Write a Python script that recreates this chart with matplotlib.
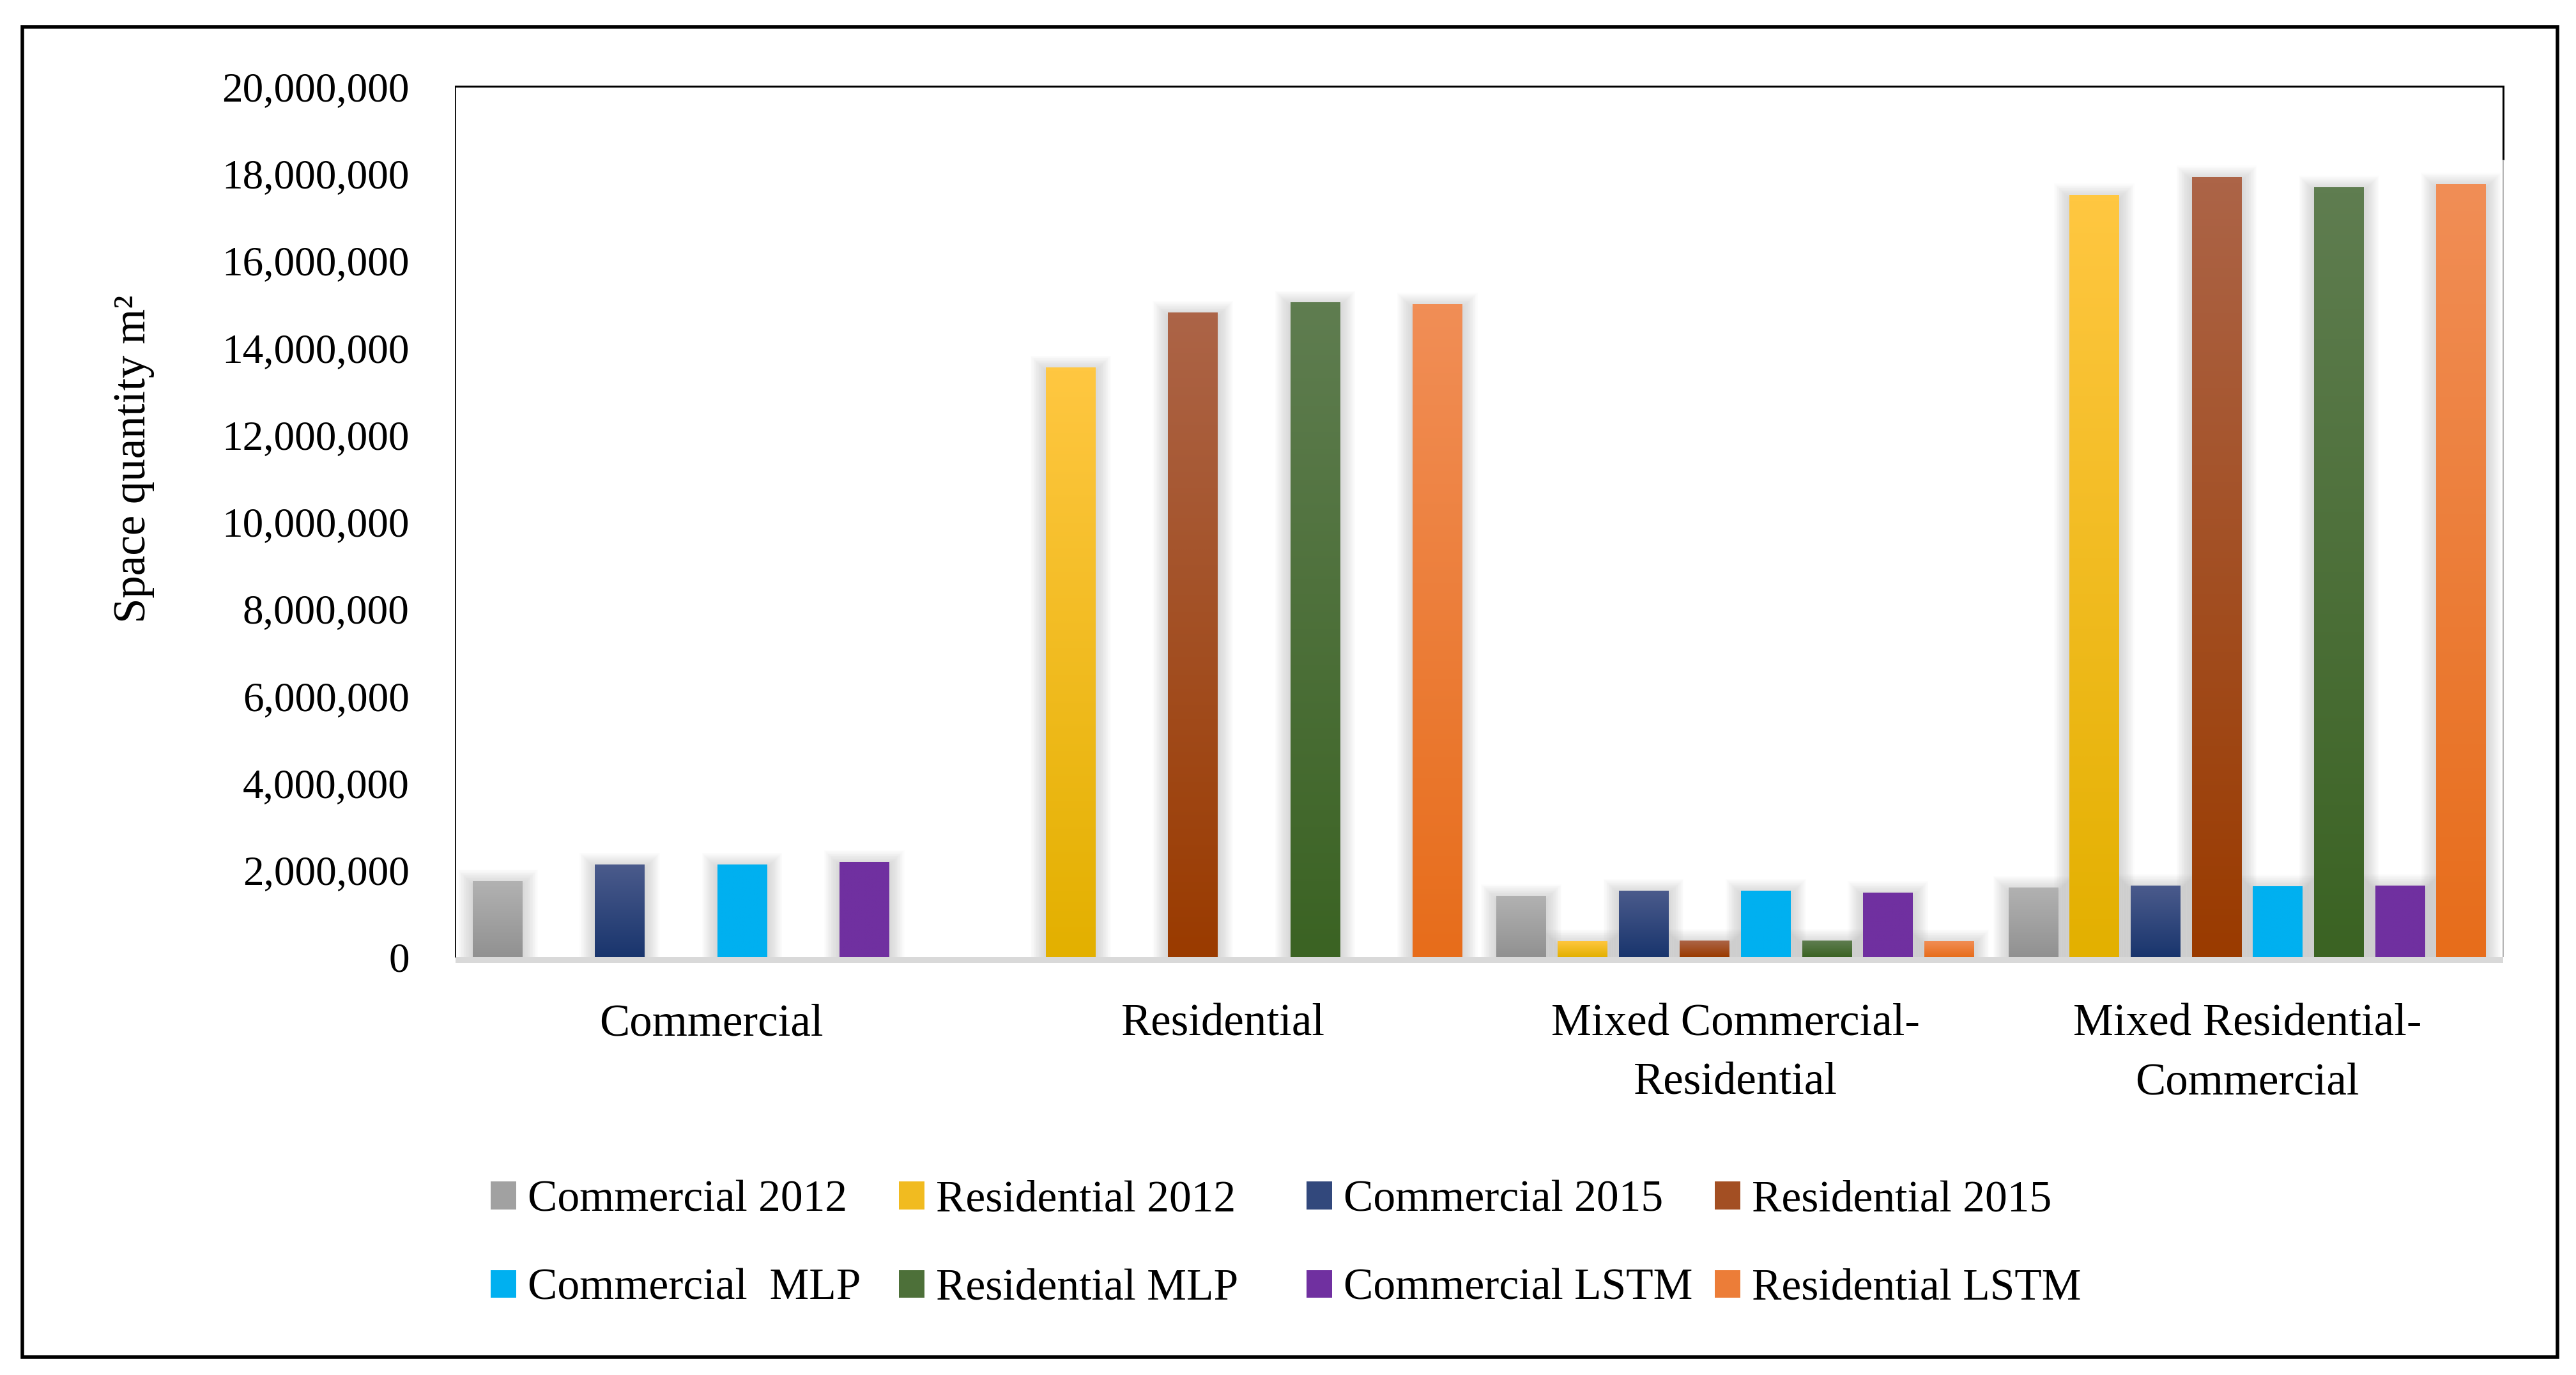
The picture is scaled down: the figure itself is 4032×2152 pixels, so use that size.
import matplotlib
matplotlib.use('Agg')
import matplotlib.pyplot as plt
import numpy as np
from matplotlib.colors import LinearSegmentedColormap
from matplotlib.patches import Rectangle, Patch
from matplotlib.ticker import FuncFormatter

# ---- data ----
categories = ["Commercial", "Residential",
              "Mixed Commercial-\nResidential", "Mixed Residential-\nCommercial"]
series_names = ["Commercial 2012", "Residential 2012", "Commercial 2015", "Residential 2015",
                "Commercial  MLP", "Residential MLP", "Commercial LSTM", "Residential LSTM"]
commercial_2012 = [1750000, 0, 1410000, 1600000]
residential_2012 = [0, 13550000, 370000, 17500000]
commercial_2015 = [2130000, 0, 1530000, 1640000]
residential_2015 = [0, 14800000, 380000, 17910000]
commercial_mlp = [2130000, 0, 1530000, 1630000]
residential_mlp = [0, 15040000, 380000, 17680000]
commercial_lstm = [2190000, 0, 1480000, 1640000]
residential_lstm = [0, 14990000, 370000, 17750000]
y_ticks = list(range(0, 20000001, 2000000))

series = [commercial_2012, residential_2012, commercial_2015, residential_2015,
          commercial_mlp, residential_mlp, commercial_lstm, residential_lstm]
# (top, bottom) gradient colours, Excel style
colors = [("#b2b2b2", "#919191"), ("#ffc741", "#e3b000"),
          ("#4b5b8c", "#19356d"), ("#ac6447", "#9a3b00"),
          ("#00b0f0", "#00b0f0"), ("#5f7d50", "#3b6323"),
          ("#7030a0", "#7030a0"), ("#f18e56", "#e76d1b")]

plt.rcParams['font.family'] = ['Liberation Serif', 'DejaVu Serif']
FS_NUM = 47   # tick numbers
FS_TXT = 51   # category labels / axis title
FS_LEG = 50

W, H = 4032, 2152
fig = plt.figure(figsize=(W / 100, H / 100), dpi=100)
ax_l, ax_r, ax_t, ax_b = 713, 3918, 135, 1498
ax = fig.add_axes([ax_l / W, 1 - ax_b / H, (ax_r - ax_l) / W, (ax_b - ax_t) / H])

ax.set_xlim(-0.5, 3.5)
ax.set_ylim(0, 20000000)
px_x = 4.0 / (ax_r - ax_l)
px_y = 20000000 / (ax_b - ax_t)

step = 0.1194
bw = 0.097
x = np.arange(len(categories))

for j, (vals, (top, bot)) in enumerate(zip(series, colors)):
    xs = x + (j - 3.5) * step
    cmap = LinearSegmentedColormap.from_list("g%d" % j, [top, bot])
    bars = ax.bar(xs, vals, width=bw, color=cmap(0.5), linewidth=0, zorder=3)
    for b in bars:
        h = b.get_height()
        if h <= 0:
            continue
        x0 = b.get_x()
        x1 = x0 + b.get_width()
        # soft shadow
        for k in range(1, 16):
            e = k * 1.6
            ax.add_patch(Rectangle((x0 - e * px_x, 0), (x1 - x0) + 2 * e * px_x,
                                   h + (e - 6) * px_y, facecolor="#808080",
                                   edgecolor="none", alpha=0.02, zorder=2))
        grad = np.linspace(0, 1, 128).reshape(-1, 1)
        im = ax.imshow(grad, extent=(x0, x1, 0, h), aspect='auto', cmap=cmap,
                       origin='upper', interpolation='bilinear', zorder=3.5)
        im.set_clip_path(b)

ax.set_xlim(-0.5, 3.5)
ax.set_ylim(0, 20000000)

# floor band
ax.add_patch(Rectangle((0, -9 / (ax_b - ax_t)), 1, 9 / (ax_b - ax_t), transform=ax.transAxes,
                       facecolor="#d9d9d9", edgecolor="none", clip_on=False, zorder=4))

ax.set_xticks(x)
ax.set_xticklabels(categories)
ax.set_yticks(y_ticks)
ax.yaxis.set_major_formatter(FuncFormatter(lambda v, p: f"{v:,.0f}"))
ax.tick_params(axis='x', length=0, pad=52, labelsize=FS_TXT)
ax.tick_params(axis='y', length=0, pad=52, labelsize=FS_NUM)
for lbl in ax.get_xticklabels():
    lbl.set_linespacing(1.55)

for s in ['bottom', 'right']:
    ax.spines[s].set_visible(False)
ax.spines['left'].set_linewidth(1.3)
ax.spines['top'].set_linewidth(2.2)
ysplit = (ax_b - 250) / (ax_b - ax_t)
ax.plot([1, 1], [ysplit, 1], transform=ax.transAxes, color="black", lw=2.2,
        clip_on=False, solid_capstyle='butt')
ax.plot([1, 1], [0, ysplit], transform=ax.transAxes, color="#a6a6a6", lw=1.2,
        clip_on=False, solid_capstyle='butt')

fig.text(210 / W, 1 - 718 / H, "Space quantity m²", rotation=90, ha='center', va='center',
         fontsize=FS_TXT)

# legend: 4 equally spaced columns, 2 rows
col_x = [768, 1407, 2045, 2684]
for c in range(4):
    handles = []
    labels = []
    for j in (c, c + 4):
        handles.append(Patch(facecolor=LinearSegmentedColormap.from_list("h", colors[j])(0.5),
                             edgecolor="none"))
        labels.append(series_names[j])
    fig.legend(handles, labels, loc='upper left', bbox_to_anchor=(col_x[c] / W, 1 - 1847 / H),
               frameon=False, fontsize=FS_LEG, handlelength=0.58, handleheight=0.58,
               handletextpad=0.26, borderpad=0, borderaxespad=0, labelspacing=1.08)

# outer frame
fig.patches.append(Rectangle((35 / W, 1 - 2124 / H), (4003 - 35) / W, (2124 - 42) / H,
                             transform=fig.transFigure, fill=False, lw=4, ec="black"))

fig.savefig("out.png", dpi=100)
plt.close(fig)
